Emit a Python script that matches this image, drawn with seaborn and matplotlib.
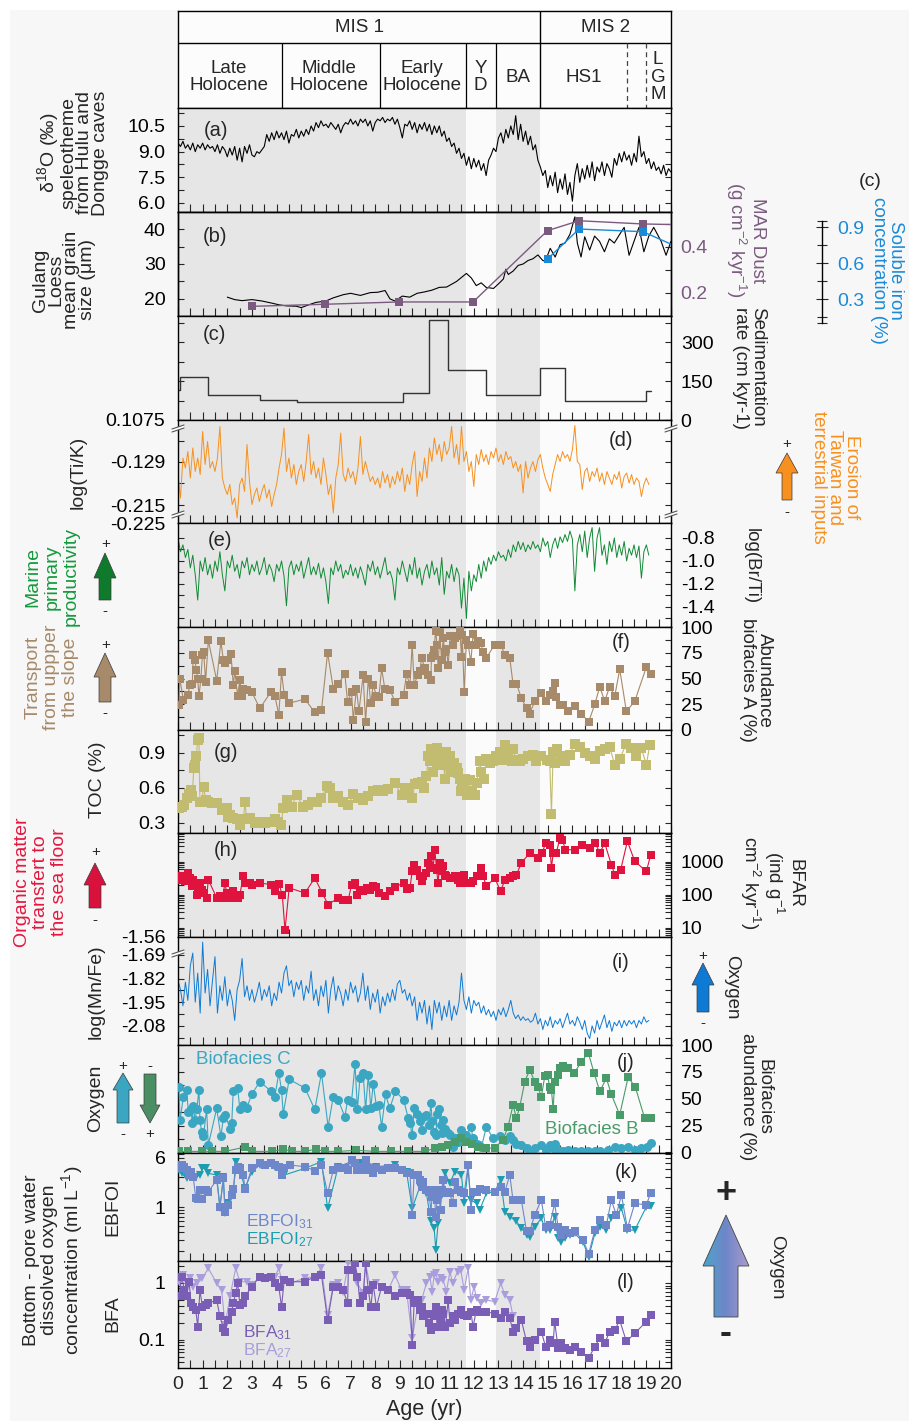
import numpy as np
import matplotlib
matplotlib.use("Agg")
import matplotlib.pyplot as plt
import matplotlib.colors as mcolors
from matplotlib.patches import Polygon, Rectangle
from matplotlib.ticker import MultipleLocator, LogLocator, NullFormatter
import seaborn as sns

# ====================== DATA ======================
# chronology (kyr)
grey_start = [0.0, 12.9]
grey_end = [11.7, 14.7]
mis_labels = ["MIS 1", "MIS 2"]
mis_centers = [7.35, 17.35]
mis_boundary = 14.7
stage_labels = ["Late\nHolocene", "Middle\nHolocene", "Early\nHolocene", "Y\nD", "BA", "HS1", "L\nG\nM"]
stage_centers = [2.07, 6.14, 9.9, 12.28, 13.78, 16.46, 19.47]
stage_dividers = [4.2, 8.2, 11.7, 12.9]
stage_dashed = [18.2, 19.0]

# (a) speleothem d18O, 0.1 kyr step from 0
speleo_o18 = [9.5, 9.3, 9.6, 9.2, 9.4, 9.1, 9.5, 9.0, 9.4, 9.2,
              9.5, 9.1, 9.4, 9.2, 9.3, 9.0, 9.4, 8.9, 9.3, 9.1,
              8.7, 9.2, 8.8, 9.3, 8.5, 9.2, 8.4, 9.3, 8.9, 9.4,
              8.8, 8.7, 9.0, 8.9, 9.1, 9.3, 10.0, 9.6, 10.1, 9.7,
              10.2, 9.8, 10.1, 9.7, 10.2, 9.5, 10.0, 9.9, 10.3, 9.8,
              10.2, 9.9, 10.3, 10.0, 10.5, 10.2, 10.7, 10.4, 10.8, 10.5,
              10.6, 10.4, 10.7, 10.5, 10.3, 10.6, 10.1, 10.5, 10.7, 10.6,
              10.9, 10.6, 10.8, 10.5, 10.9, 10.7, 10.9, 10.5, 10.8, 10.2,
              10.7, 10.9, 10.8, 11.0, 10.7, 10.9, 10.8, 11.0, 10.6, 10.9,
              10.4, 9.8, 10.6, 10.5, 10.8, 10.3, 10.7, 10.1, 10.6, 10.3,
              10.7, 10.2, 10.6, 10.0, 10.5, 10.1, 10.5, 9.9, 10.2, 9.6,
              9.8, 9.3, 9.5, 8.9, 9.2, 8.6, 8.9, 8.2, 8.7, 8.0,
              8.6, 8.1, 8.5, 7.9, 8.3, 7.6, 8.5, 8.8, 9.2, 9.0,
              9.8, 10.1, 9.5, 10.3, 9.8, 10.5, 10.0, 11.1, 9.7, 10.6,
              9.6, 10.2, 9.4, 9.9, 9.1, 9.4, 8.5, 8.1, 7.6, 7.9,
              6.9, 7.6, 7.0, 7.8, 6.6, 7.4, 6.8, 7.7, 6.5, 7.2,
              6.1, 7.6, 8.3, 7.2, 8.0, 7.4, 8.2, 7.5, 8.4, 7.3,
              8.1, 7.8, 8.4, 7.6, 8.3, 8.0, 7.5, 8.6, 8.2, 8.9,
              8.4, 9.0, 8.5, 8.8, 8.2, 8.9, 8.4, 9.9, 8.7, 9.0,
              8.3, 8.6, 8.0, 8.4, 7.9, 8.1, 7.7, 8.2, 7.6, 8.0,
              7.8]

# (b) Gulang loess grain size
grain_age = [2.0, 2.3, 2.6, 3.0, 3.4, 3.8, 4.1, 4.4, 4.8, 5.0, 5.3, 5.6, 6.0, 6.3, 6.7, 7.0, 7.4, 7.8, 8.1, 8.4,
             8.6, 8.8, 9.1, 9.4, 9.7, 10.0, 10.3, 10.6, 10.9, 11.3, 11.7, 11.9, 12.1, 12.3, 12.5, 12.8, 13.0, 13.2, 13.3, 13.4,
             13.6, 13.8, 14.0, 14.2, 14.4, 14.6, 14.8, 14.9, 15.1, 15.3, 15.5, 15.7, 15.9, 16.0, 16.1, 16.2, 16.35, 16.5, 16.7, 16.9,
             17.1, 17.3, 17.5, 17.7, 17.9, 18.1, 18.3, 18.5, 18.7, 18.9, 19.1, 19.3, 19.6, 19.8, 20.0]
grain_size = [20.5, 19.8, 19.5, 19.8, 19.4, 18.8, 18.3, 18.0, 17.9, 17.5, 18.3, 19.0, 19.4, 20.3, 21.2, 21.6, 21.0, 21.8, 21.9, 22.4,
              20.0, 19.4, 20.8, 20.5, 21.6, 22.0, 22.5, 23.3, 23.4, 25.0, 27.3, 26.0, 23.8, 24.6, 23.3, 23.0, 24.3, 25.7, 28.5, 27.0,
              28.0, 29.6, 30.0, 31.0, 31.5, 32.6, 31.0, 30.8, 34.5, 32.0, 35.5, 36.0, 38.5, 41.0, 43.5, 36.0, 32.0, 37.8, 34.0, 38.0,
              36.5, 33.5, 37.2, 36.0, 38.3, 40.5, 32.5, 36.5, 40.5, 33.5, 38.0, 40.5, 36.5, 32.5, 36.5]
mar_age = [2.99, 5.96, 8.96, 11.97, 14.99, 16.27, 18.86, 20.3]
mar_dust = [0.142, 0.151, 0.161, 0.161, 0.471, 0.514, 0.500, 0.497]
iron_age = [14.99, 16.27, 18.86, 20.3]
iron_conc = [0.633, 0.883, 0.861, 0.73]

# (c) sedimentation rate (step edges and rates)
sed_edges = [0.0, 0.07, 1.22, 3.33, 4.82, 9.12, 10.2, 10.95, 12.5, 14.7, 15.7, 19.0, 19.2]
sed_rate = [115, 165, 96, 77, 69, 104, 385, 192, 96, 200, 73, 112]

# (d) log(Ti/K), 0.1 kyr step from 0
tik = [-0.154, -0.201, -0.121, -0.141, -0.108, -0.161, -0.101, -0.148, -0.121, -0.154,
       -0.068, -0.134, -0.088, -0.141, -0.128, -0.148, -0.121, -0.058, -0.161, -0.181,
       -0.194, -0.174, -0.214, -0.201, -0.241, -0.174, -0.161, -0.188, -0.094, -0.168,
       -0.214, -0.194, -0.181, -0.208, -0.188, -0.174, -0.201, -0.184, -0.218, -0.194,
       -0.174, -0.141, -0.114, -0.061, -0.148, -0.121, -0.161, -0.134, -0.174, -0.148,
       -0.134, -0.168, -0.128, -0.074, -0.154, -0.128, -0.161, -0.141, -0.174, -0.121,
       -0.154, -0.194, -0.174, -0.231, -0.161, -0.134, -0.071, -0.154, -0.168, -0.141,
       -0.161, -0.148, -0.174, -0.141, -0.078, -0.154, -0.128, -0.148, -0.168, -0.158,
       -0.174, -0.161, -0.181, -0.148, -0.171, -0.154, -0.181, -0.158, -0.174, -0.148,
       -0.168, -0.141, -0.188, -0.154, -0.174, -0.134, -0.108, -0.198, -0.148, -0.168,
       -0.121, -0.161, -0.101, -0.128, -0.081, -0.114, -0.094, -0.128, -0.088, -0.114,
       -0.101, -0.058, -0.121, -0.094, -0.134, -0.058, -0.128, -0.108, -0.148, -0.128,
       -0.178, -0.114, -0.134, -0.104, -0.128, -0.114, -0.134, -0.108, -0.121, -0.101,
       -0.128, -0.114, -0.134, -0.108, -0.124, -0.118, -0.141, -0.128, -0.148, -0.134,
       -0.191, -0.128, -0.161, -0.141, -0.128, -0.148, -0.124, -0.114, -0.141, -0.161,
       -0.174, -0.188, -0.154, -0.134, -0.114, -0.128, -0.108, -0.121, -0.114, -0.128,
       -0.104, -0.056, -0.128, -0.134, -0.184, -0.148, -0.141, -0.168, -0.148, -0.158,
       -0.141, -0.168, -0.151, -0.174, -0.148, -0.161, -0.174, -0.154, -0.164, -0.148,
       -0.181, -0.158, -0.151, -0.171, -0.154, -0.174, -0.161, -0.168, -0.198, -0.174,
       -0.161, -0.174]

# (e) log(Br/Ti), 0.1 kyr step from 0
brti = [-0.80, -0.92, -0.86, -0.97, -0.90, -1.06, -0.95, -1.12, -1.34, -1.00,
        -1.09, -0.97, -1.12, -1.03, -1.15, -1.00, -1.09, -0.92, -1.12, -1.26,
        -1.00, -1.06, -0.95, -1.09, -1.03, -1.15, -1.00, -1.06, -0.97, -1.12,
        -1.03, -1.09, -1.00, -1.12, -1.06, -0.97, -1.12, -1.03, -1.08, -1.18,
        -1.03, -1.09, -1.00, -1.13, -1.39, -1.06, -1.00, -1.12, -1.03, -1.09,
        -1.00, -1.15, -1.06, -0.97, -1.12, -1.05, -1.12, -1.02, -1.15, -1.06,
        -1.18, -1.37, -1.06, -1.12, -1.00, -1.09, -1.03, -1.15, -1.08, -1.12,
        -1.03, -1.13, -1.06, -1.15, -1.05, -1.12, -1.21, -1.03, -1.09, -1.00,
        -1.12, -1.05, -1.15, -1.06, -0.97, -1.12, -1.09, -1.16, -1.34, -1.06,
        -1.12, -1.00, -1.09, -1.18, -1.03, -1.12, -0.97, -1.15, -1.06, -1.21,
        -1.09, -1.03, -1.15, -1.00, -1.12, -1.06, -1.21, -0.97, -1.29, -1.09,
        -1.15, -1.03, -1.18, -1.06, -1.12, -1.41, -1.15, -1.50, -1.09, -1.26,
        -1.12, -1.18, -1.03, -1.15, -1.00, -1.09, -0.97, -1.03, -0.95, -1.00,
        -0.92, -0.97, -0.95, -1.00, -0.90, -0.97, -0.86, -0.92, -0.83, -0.90,
        -0.84, -0.92, -0.86, -0.90, -0.83, -0.89, -0.86, -0.92, -0.80, -0.87,
        -0.83, -0.97, -0.86, -0.80, -0.89, -0.79, -0.84, -0.77, -0.83, -0.74,
        -0.81, -1.26, -0.86, -0.77, -0.92, -0.74, -0.97, -0.80, -0.71, -1.09,
        -0.80, -0.71, -0.95, -0.86, -1.03, -0.83, -0.92, -0.80, -0.97, -0.86,
        -0.95, -0.83, -1.00, -0.89, -0.95, -0.86, -0.97, -0.87, -1.15, -0.92,
        -0.86, -0.95]

# (f) abundance biofacies A (%) : (age, value)
biofacies_a = [(0.04, 24), (0.07, 50), (0.22, 29), (0.39, 34), (0.49, 44), (0.58, 45), (0.62, 73), (0.69, 68), (0.74, 58),
               (0.80, 50), (0.85, 33), (0.93, 50), (0.99, 73), (1.04, 76), (1.12, 47), (1.23, 87), (1.57, 48), (1.74, 86),
               (1.84, 68), (1.91, 65), (2.04, 68), (2.15, 74), (2.24, 44), (2.31, 57), (2.42, 33), (2.51, 49), (2.58, 33),
               (2.65, 40), (2.78, 39), (2.99, 37), (3.32, 21), (3.77, 37), (3.93, 33), (4.09, 15), (4.20, 56), (4.31, 34),
               (4.50, 26), (5.15, 30), (5.55, 17), (5.82, 19), (6.07, 75), (6.30, 40), (6.50, 45), (6.77, 54), (6.88, 27),
               (7.04, 37), (7.11, 10), (7.24, 40), (7.34, 18), (7.51, 53), (7.61, 8), (7.72, 50), (7.82, 26), (7.92, 44),
               (8.05, 33), (8.15, 32), (8.26, 60), (8.39, 40), (8.59, 39), (8.82, 27), (9.15, 34), (9.27, 54), (9.41, 44),
               (9.50, 83), (9.58, 44), (9.72, 53), (9.81, 57), (9.88, 70), (10.01, 60), (10.15, 53), (10.26, 49), (10.28, 70),
               (10.35, 72), (10.39, 78), (10.45, 96), (10.51, 83), (10.55, 60), (10.62, 95), (10.69, 68), (10.76, 89),
               (10.82, 76), (10.89, 79), (10.96, 63), (11.05, 91), (11.14, 83), (11.23, 89), (11.30, 91), (11.43, 99),
               (11.50, 71), (11.53, 92), (11.61, 37), (11.70, 87), (11.77, 83), (11.88, 66), (11.97, 93), (12.07, 83),
               (12.18, 86), (12.28, 84), (12.38, 76), (12.51, 70), (12.85, 83), (13.09, 83), (13.26, 73), (13.46, 70),
               (13.59, 45), (13.73, 45), (13.93, 31), (14.14, 21), (14.27, 16), (14.47, 28), (14.74, 36), (14.91, 28),
               (15.08, 34), (15.22, 38), (15.28, 46), (15.35, 32), (15.49, 24), (15.62, 24), (15.82, 18), (16.09, 23),
               (16.36, 16), (16.66, 8), (16.91, 25), (17.11, 42), (17.31, 28), (17.51, 42), (17.72, 33), (17.92, 59),
               (18.19, 18), (18.53, 28), (19.00, 61), (19.18, 54)]

# (g) TOC (%)
toc = [(0.04, 0.43), (0.15, 0.44), (0.26, 0.45), (0.35, 0.51), (0.45, 0.55), (0.53, 0.58), (0.58, 0.53), (0.64, 0.77),
       (0.69, 0.80), (0.74, 0.87), (0.80, 1.01), (0.85, 1.03), (0.89, 0.48), (0.96, 0.48), (1.04, 0.61), (1.12, 0.50),
       (1.23, 0.48), (1.36, 0.47), (1.57, 0.47), (1.77, 0.41), (1.97, 0.43), (2.04, 0.35), (2.11, 0.37), (2.24, 0.34),
       (2.38, 0.33), (2.51, 0.28), (2.65, 0.33), (2.72, 0.48), (2.78, 0.33), (2.92, 0.34), (3.12, 0.30), (3.32, 0.31),
       (3.53, 0.30), (3.73, 0.31), (3.93, 0.33), (4.07, 0.31), (4.18, 0.28), (4.27, 0.43), (4.41, 0.50), (4.61, 0.44),
       (4.81, 0.54), (5.08, 0.44), (5.28, 0.45), (5.42, 0.48), (5.62, 0.48), (5.82, 0.51), (6.03, 0.62), (6.16, 0.60),
       (6.30, 0.51), (6.50, 0.53), (6.70, 0.48), (6.91, 0.45), (7.11, 0.55), (7.31, 0.51), (7.51, 0.50), (7.72, 0.53),
       (7.92, 0.57), (8.12, 0.58), (8.32, 0.57), (8.53, 0.59), (8.80, 0.64), (9.07, 0.54), (9.20, 0.60), (9.34, 0.58),
       (9.50, 0.51), (9.61, 0.63), (9.74, 0.64), (9.88, 0.65), (9.99, 0.60), (10.08, 0.70), (10.15, 0.87), (10.22, 0.83),
       (10.28, 0.93), (10.35, 0.74), (10.42, 0.85), (10.49, 0.94), (10.55, 0.80), (10.62, 0.90), (10.69, 0.83),
       (10.76, 0.87), (10.82, 0.68), (10.89, 0.91), (10.96, 0.80), (11.03, 0.87), (11.09, 0.74), (11.20, 0.81),
       (11.30, 0.77), (11.36, 0.73), (11.43, 0.68), (11.47, 0.57), (11.53, 0.65), (11.61, 0.58), (11.66, 0.68),
       (11.74, 0.54), (11.84, 0.67), (11.93, 0.57), (12.04, 0.54), (12.11, 0.64), (12.24, 0.83), (12.31, 0.74),
       (12.42, 0.68), (12.51, 0.85), (12.65, 0.81), (12.78, 0.83), (12.92, 0.87), (13.05, 0.91), (13.19, 0.84),
       (13.28, 0.97), (13.39, 0.90), (13.53, 0.83), (13.59, 0.93), (13.73, 0.84), (13.86, 0.83), (14.00, 0.85),
       (14.20, 0.87), (14.41, 0.88), (14.54, 0.83), (14.74, 0.87), (14.95, 0.84), (15.08, 0.83), (15.15, 0.38),
       (15.22, 0.91), (15.28, 0.81), (15.39, 0.93), (15.55, 0.87), (15.69, 0.83), (15.89, 0.88), (16.09, 0.98),
       (16.30, 0.95), (16.50, 0.90), (16.70, 0.87), (16.91, 0.85), (17.11, 0.92), (17.31, 0.93), (17.51, 0.95),
       (17.72, 0.80), (17.92, 0.85), (18.19, 0.98), (18.39, 0.94), (18.59, 0.87), (18.80, 0.94), (19.00, 0.80),
       (19.14, 0.97)]

# (h) BFAR (ind g-1 cm-2 kyr-1)
bfar = [(0.04, 291), (0.15, 368), (0.28, 260), (0.39, 464), (0.49, 327), (0.55, 183), (0.62, 291), (0.69, 231),
        (0.76, 102), (0.82, 145), (0.89, 231), (0.96, 145), (1.07, 115), (1.16, 81), (1.23, 291), (1.57, 81), (1.70, 91),
        (1.80, 81), (1.91, 231), (1.97, 115), (2.04, 91), (2.11, 81), (2.24, 129), (2.45, 81), (2.51, 102), (2.65, 385),
        (2.72, 231), (2.92, 231), (3.01, 206), (3.32, 231), (3.77, 206), (3.93, 129), (4.09, 220), (4.23, 102),
        (4.34, 8.5), (4.51, 163), (5.15, 115), (5.55, 327), (5.85, 115), (6.09, 51), (6.50, 81), (6.70, 72), (6.91, 72),
        (7.04, 206), (7.18, 231), (7.28, 102), (7.38, 145), (7.51, 129), (7.65, 163), (7.78, 145), (7.92, 183),
        (8.05, 175), (8.15, 115), (8.39, 91), (8.59, 129), (8.82, 175), (9.15, 231), (9.27, 152), (9.41, 163),
        (9.50, 521), (9.58, 830), (9.68, 586), (9.81, 368), (9.88, 260), (9.95, 368), (10.08, 464), (10.15, 933),
        (10.22, 739), (10.28, 1490), (10.35, 658), (10.42, 2360), (10.49, 586), (10.55, 231), (10.62, 933), (10.69, 521),
        (10.76, 739), (10.82, 413), (10.89, 368), (11.03, 327), (11.09, 327), (11.23, 368), (11.34, 291), (11.43, 231),
        (11.50, 368), (11.61, 413), (11.70, 231), (11.88, 231), (11.97, 260), (12.11, 368), (12.20, 368), (12.31, 658),
        (12.38, 368), (12.51, 183), (12.85, 327), (13.09, 129), (13.26, 291), (13.46, 327), (13.59, 368), (13.73, 413),
        (13.93, 933), (14.27, 1870), (14.61, 1320), (14.78, 1870), (14.91, 3760), (15.08, 3350), (15.15, 658),
        (15.22, 1870), (15.35, 1870), (15.49, 5330), (15.59, 4750), (15.72, 2360), (16.09, 2360), (16.39, 3350),
        (16.70, 2650), (16.93, 3760), (17.11, 1870), (17.31, 3760), (17.58, 830), (17.72, 413), (17.96, 586),
        (18.23, 4230), (18.53, 1050), (19.00, 521), (19.18, 1670)]

# (i) log(Mn/Fe), 0.1 kyr step from 0
mnfe = [-1.83, -1.88, -1.97, -1.84, -1.94, -1.75, -1.68, -1.95, -1.79, -2.01,
        -1.62, -1.90, -1.77, -1.97, -1.83, -1.70, -2.01, -1.86, -1.94, -1.81,
        -1.97, -1.88, -1.94, -2.05, -1.88, -1.83, -1.71, -1.92, -1.86, -1.94,
        -1.88, -1.95, -1.90, -1.84, -1.94, -1.88, -1.92, -1.86, -1.97, -1.90,
        -1.94, -1.84, -1.90, -1.79, -1.75, -1.86, -1.83, -1.92, -1.84, -1.88,
        -1.83, -1.94, -1.86, -1.90, -1.78, -1.94, -1.88, -1.97, -1.86, -1.92,
        -1.83, -2.01, -1.88, -1.81, -1.94, -1.86, -1.90, -1.97, -1.88, -1.94,
        -1.84, -1.90, -1.86, -1.95, -1.90, -1.79, -1.94, -1.86, -1.99, -1.90,
        -1.95, -1.88, -2.01, -1.92, -1.97, -1.90, -1.95, -1.88, -1.94, -1.85,
        -1.83, -1.90, -1.88, -1.94, -1.90, -1.97, -1.92, -2.05, -1.95, -2.01,
        -1.94, -2.07, -1.97, -2.10, -1.94, -2.01, -1.95, -2.05, -1.97, -2.03,
        -1.94, -2.05, -1.97, -2.02, -1.95, -1.79, -1.94, -1.99, -1.92, -2.01,
        -1.94, -1.97, -1.95, -2.01, -1.97, -2.02, -1.99, -2.03, -2.00, -2.05,
        -1.99, -2.02, -1.98, -2.03, -1.99, -1.94, -2.01, -2.04, -2.02, -2.05,
        -2.03, -2.05, -2.04, -2.06, -2.05, -2.01, -2.07, -2.04, -2.10, -2.05,
        -2.08, -2.03, -2.09, -2.05, -2.07, -2.04, -2.09, -2.05, -2.01, -2.07,
        -2.05, -2.08, -2.03, -2.06, -2.10, -2.05, -2.12, -2.15, -2.08, -2.12,
        -2.05, -2.10, -2.06, -2.02, -2.09, -2.05, -2.11, -2.06, -2.08, -2.05,
        -2.09, -2.05, -2.08, -2.05, -2.07, -2.05, -2.09, -2.05, -2.07, -2.03,
        -2.06, -2.05]

# (j) biofacies abundance (%)
biofacies_c = [(0.04, 61), (0.08, 30), (0.22, 52), (0.35, 58), (0.42, 38), (0.53, 40), (0.58, 27), (0.62, 43), (0.69, 30),
               (0.76, 40), (0.85, 58), (0.89, 30), (0.96, 19), (1.03, 15), (1.16, 40), (1.23, 7), (1.57, 41), (1.74, 15),
               (1.84, 32), (1.91, 35), (2.11, 22), (2.18, 27), (2.24, 57), (2.42, 60), (2.51, 40), (2.65, 44), (2.78, 41),
               (2.99, 54), (3.32, 66), (3.77, 57), (3.93, 52), (4.09, 74), (4.20, 58), (4.27, 36), (4.51, 68), (5.15, 60),
               (5.55, 40), (5.82, 74), (6.09, 24), (6.30, 52), (6.50, 49), (6.77, 33), (6.88, 49), (7.04, 47), (7.18, 82),
               (7.28, 40), (7.38, 69), (7.51, 74), (7.61, 40), (7.72, 72), (7.82, 41), (7.92, 64), (8.05, 43), (8.15, 44),
               (8.26, 24), (8.42, 54), (8.59, 41), (8.82, 57), (9.15, 49), (9.34, 32), (9.41, 27), (9.50, 16), (9.58, 41),
               (9.68, 36), (9.81, 29), (9.88, 21), (9.95, 33), (10.08, 35), (10.18, 26), (10.26, 46), (10.31, 29),
               (10.39, 19), (10.46, 16), (10.51, 36), (10.58, 40), (10.65, 26), (10.69, 18), (10.76, 30), (10.85, 22),
               (10.96, 18), (11.03, 16), (11.14, 5), (11.23, 13), (11.34, 10), (11.50, 21), (11.61, 12), (11.70, 16),
               (11.88, 24), (11.97, 13), (12.11, 8), (12.20, 7), (12.31, 5), (12.51, 24), (12.78, 13), (13.05, 15),
               (13.26, 12), (13.46, 15), (13.59, 12), (13.73, 8), (13.93, 7), (14.14, 4), (14.27, 1), (14.47, 4), (14.74, 7),
               (14.91, 2), (15.08, 7), (15.22, 4), (15.28, 8), (15.42, 2), (15.62, 1), (15.82, 2), (16.09, 1), (16.36, 1),
               (16.64, 1), (16.91, 1), (17.11, 1), (17.45, 2), (17.72, 5), (17.99, 4), (18.26, 5), (18.53, 2), (18.80, 4),
               (19.04, 5), (19.18, 9)]
biofacies_b = [(0.04, 1), (0.42, 1), (0.96, 1), (1.36, 1), (1.91, 1), (2.72, 5), (2.99, 1), (3.80, 1), (4.27, 3), (4.61, 1),
               (5.15, 1), (5.58, 3), (5.96, 1), (6.50, 1), (7.24, 2), (7.99, 1), (8.66, 1), (9.34, 1), (10.01, 1), (10.42, 4),
               (10.69, 5), (10.96, 7), (11.23, 10), (11.50, 13), (11.70, 10), (11.91, 8), (12.18, 5), (12.51, 4), (12.85, 4),
               (13.19, 12), (13.39, 24), (13.59, 44), (13.73, 32), (13.86, 42), (14.07, 66), (14.27, 77), (14.47, 66),
               (14.61, 61), (14.74, 52), (14.88, 71), (14.99, 72), (15.08, 61), (15.15, 58), (15.22, 40), (15.28, 66),
               (15.42, 72), (15.49, 79), (15.62, 80), (15.82, 79), (16.07, 74), (16.36, 84), (16.64, 93), (16.88, 74),
               (17.11, 57), (17.38, 69), (17.58, 54), (17.92, 35), (18.26, 70), (18.55, 61), (18.93, 32), (19.18, 32)]

# (k) EBFOI (ml L-1)
ebfoi_31 = [(0.04, 4.11), (0.15, 4.64), (0.26, 4.37), (0.35, 3.86), (0.45, 3.22), (0.53, 3.64), (0.62, 3.03), (0.72, 1.37),
            (0.80, 1.32), (0.89, 1.86), (0.99, 1.32), (1.12, 1.86), (1.23, 1.75), (1.57, 2.68), (1.70, 1.01), (1.84, 2.85),
            (1.91, 0.84), (2.04, 1.08), (2.18, 1.55), (2.24, 1.91), (2.34, 3.86), (2.42, 4.37), (2.51, 4.11), (2.65, 3.22),
            (2.72, 1.91), (2.99, 4.11), (3.32, 4.93), (3.53, 4.64), (3.77, 4.93), (3.93, 4.64), (4.09, 4.37), (4.20, 3.22),
            (4.31, 4.11), (4.54, 4.64), (5.15, 4.37), (5.55, 3.77), (5.82, 4.64), (6.07, 1.65), (6.30, 3.86), (6.50, 4.11),
            (6.77, 4.11), (6.91, 3.86), (7.04, 5.57), (7.18, 4.93), (7.28, 3.86), (7.38, 4.37), (7.51, 3.86), (7.61, 5.57),
            (7.72, 4.11), (7.82, 3.86), (7.92, 3.42), (8.05, 4.11), (8.26, 3.86), (8.53, 4.11), (8.80, 4.11), (9.07, 3.86),
            (9.27, 3.42), (9.41, 3.42), (9.50, 0.75), (9.58, 3.22), (9.72, 3.22), (9.81, 2.68), (9.88, 2.10), (9.95, 2.53),
            (10.08, 1.86), (10.18, 1.75), (10.26, 0.84), (10.31, 1.46), (10.39, 1.86), (10.46, 0.70), (10.51, 1.29),
            (10.58, 1.65), (10.65, 0.90), (10.69, 1.86), (10.76, 2.68), (10.85, 1.65), (10.96, 1.75), (11.03, 1.65),
            (11.14, 1.14), (11.23, 2.53), (11.34, 1.86), (11.50, 1.75), (11.61, 1.65), (11.77, 4.64), (11.88, 0.90),
            (11.97, 1.75), (12.11, 1.75), (12.24, 1.91), (12.51, 1.86), (12.85, 1.75), (13.09, 2.10), (13.26, 1.75),
            (13.46, 3.22), (13.59, 1.29), (13.73, 1.29), (13.93, 1.29), (14.14, 0.41), (14.27, 0.41), (14.47, 0.75),
            (14.74, 1.29), (14.91, 0.49), (15.08, 0.52), (15.28, 1.14), (15.42, 0.48), (15.55, 0.36), (15.69, 0.43),
            (15.89, 0.38), (16.09, 0.41), (16.43, 0.30), (16.66, 0.18), (16.91, 0.43), (17.11, 0.62), (17.38, 0.52),
            (17.58, 1.29), (17.78, 0.75), (17.99, 1.55), (18.23, 0.46), (18.53, 1.14), (19.00, 1.08), (19.18, 1.69)]
ebfoi_27 = [(0.04, 3.86), (0.15, 3.42), (0.35, 2.85), (0.53, 3.42), (0.72, 3.03), (0.89, 3.22), (0.99, 4.11), (1.12, 4.11),
            (1.23, 3.42), (1.57, 3.22), (1.70, 0.95), (1.84, 3.03), (1.91, 0.79), (2.04, 1.14), (2.24, 1.65), (2.34, 5.25),
            (2.51, 3.86), (2.72, 1.98), (2.99, 3.64), (3.32, 4.64), (3.93, 4.37), (4.31, 3.22), (5.15, 4.11), (5.82, 5.25),
            (6.07, 0.95), (6.50, 4.37), (7.04, 5.25), (7.38, 4.93), (7.61, 5.25), (8.05, 4.37), (8.80, 4.64), (9.27, 3.64),
            (9.50, 0.95), (9.81, 2.10), (10.08, 1.65), (10.26, 0.59), (10.39, 0.46), (10.46, 0.21), (10.55, 0.55),
            (10.69, 1.55), (10.85, 3.42), (11.03, 2.38), (11.23, 3.64), (11.50, 3.22), (11.61, 1.14), (11.77, 4.11),
            (11.88, 1.29), (12.11, 1.14), (12.24, 0.90), (12.51, 1.65), (12.85, 1.75), (13.09, 2.68), (13.26, 0.84),
            (13.46, 0.70), (13.73, 0.59), (13.93, 0.46), (14.14, 0.36), (14.27, 0.34), (14.47, 0.49), (14.74, 0.66),
            (14.91, 0.43), (15.08, 0.43), (15.28, 0.70), (15.42, 0.32), (15.55, 0.28), (15.69, 0.32), (15.89, 0.36),
            (16.09, 0.38), (16.43, 0.28), (16.66, 0.16), (16.91, 0.38), (17.11, 0.49), (17.38, 0.43), (17.58, 0.66),
            (17.78, 0.75), (17.99, 0.95), (18.23, 0.43), (18.53, 0.43), (19.00, 1.01), (19.18, 1.04)]

# (l) BFA (ml L-1)
bfa_31 = [(0.04, 0.58), (0.15, 1.29), (0.26, 0.75), (0.35, 0.58), (0.45, 1.05), (0.53, 0.44), (0.62, 0.38), (0.72, 0.34),
          (0.80, 0.17), (0.89, 0.75), (0.99, 0.38), (1.12, 0.41), (1.23, 0.44), (1.57, 0.50), (1.70, 0.26), (1.84, 0.16),
          (1.91, 0.14), (2.04, 0.22), (2.18, 0.31), (2.24, 0.44), (2.34, 0.66), (2.42, 0.99), (2.51, 0.41), (2.65, 0.44),
          (2.72, 0.58), (2.99, 0.86), (3.32, 1.29), (3.53, 1.21), (3.77, 1.29), (3.93, 0.99), (4.09, 0.86), (4.20, 0.38),
          (4.31, 1.13), (4.54, 1.05), (5.15, 1.05), (5.55, 1.29), (5.82, 1.38), (6.07, 0.22), (6.30, 0.86), (6.50, 0.86),
          (6.70, 0.75), (6.88, 0.44), (6.91, 1.69), (7.04, 1.69), (7.18, 2.21), (7.28, 1.29), (7.38, 0.44), (7.51, 0.58),
          (7.61, 2.21), (7.72, 0.75), (7.82, 0.38), (7.92, 0.92), (8.05, 0.38), (8.26, 0.86), (8.53, 0.75), (8.80, 0.58),
          (9.07, 0.66), (9.27, 0.66), (9.41, 0.62), (9.50, 0.082), (9.58, 0.44), (9.72, 0.50), (9.81, 0.34), (9.88, 0.38),
          (9.95, 0.26), (10.08, 0.29), (10.18, 0.20), (10.26, 0.15), (10.31, 0.29), (10.39, 0.26), (10.46, 0.38),
          (10.51, 0.17), (10.58, 0.29), (10.65, 0.22), (10.69, 0.34), (10.76, 0.29), (10.85, 0.17), (10.96, 0.50),
          (11.03, 0.20), (11.14, 0.26), (11.23, 0.22), (11.34, 0.29), (11.50, 0.34), (11.61, 0.27), (11.74, 0.26),
          (11.88, 0.31), (11.97, 0.17), (12.11, 0.34), (12.24, 0.31), (12.51, 0.31), (12.85, 0.29), (13.09, 0.24),
          (13.26, 0.31), (13.46, 0.24), (13.59, 0.14), (13.73, 0.16), (13.93, 0.22), (14.14, 0.094), (14.27, 0.076),
          (14.47, 0.100), (14.74, 0.14), (14.91, 0.076), (15.08, 0.100), (15.22, 0.087), (15.28, 0.21), (15.42, 0.072),
          (15.55, 0.087), (15.69, 0.072), (15.89, 0.067), (16.09, 0.076), (16.36, 0.062), (16.66, 0.048), (16.91, 0.076),
          (17.11, 0.107), (17.31, 0.087), (17.51, 0.14), (17.72, 0.15), (17.92, 0.22), (18.19, 0.094), (18.53, 0.13),
          (19.00, 0.21), (19.18, 0.27)]
bfa_27 = [(0.04, 1.05), (0.22, 1.38), (0.35, 0.99), (0.49, 1.21), (0.62, 0.86), (0.76, 0.99), (0.89, 1.21), (0.99, 1.21),
          (1.23, 1.81), (1.57, 0.99), (1.77, 0.75), (1.91, 0.18), (2.11, 0.58), (2.34, 1.81), (2.51, 1.05), (2.78, 1.05),
          (2.99, 0.92), (3.32, 1.29), (3.77, 1.29), (3.93, 1.29), (4.09, 1.81), (4.20, 1.13), (4.54, 0.99), (5.15, 1.21),
          (5.55, 1.29), (5.82, 1.81), (6.07, 0.27), (6.30, 0.92), (6.50, 0.99), (6.70, 0.70), (6.91, 2.21), (7.18, 2.07),
          (7.28, 0.99), (7.51, 0.66), (7.61, 2.21), (7.82, 0.75), (8.05, 0.99), (8.53, 0.75), (8.80, 1.38), (9.07, 0.75),
          (9.27, 0.75), (9.50, 0.107), (9.72, 0.38), (9.88, 0.50), (10.08, 0.99), (10.22, 1.29), (10.31, 0.70),
          (10.39, 1.38), (10.46, 1.48), (10.55, 1.05), (10.65, 1.21), (10.76, 1.13), (10.89, 0.70), (11.03, 1.58),
          (11.14, 0.99), (11.34, 1.58), (11.47, 1.69), (11.61, 0.75), (11.77, 1.81), (11.88, 0.50), (12.01, 0.86),
          (12.11, 0.54), (12.31, 0.44), (12.51, 0.50), (12.85, 0.47), (13.09, 0.99), (13.26, 0.62), (13.46, 0.50),
          (13.59, 0.26)]

# tick values / labels
x_ticks = list(range(0, 21))
a_ticks, a_labels = [6.0, 7.5, 9.0, 10.5], ["6.0", "7.5", "9.0", "10.5"]
b_ticks, b_labels = [20, 30, 40], ["20", "30", "40"]
mar_ticks, mar_labels = [0.2, 0.4], ["0.2", "0.4"]
iron_ticks, iron_labels = [0.3, 0.6, 0.9], ["0.3", "0.6", "0.9"]
c_ticks, c_labels = [0, 150, 300], ["0", "150", "300"]
d_ticks, d_labels = [-0.045, -0.129, -0.215, -0.251], ["0.1075", "-0.129", "-0.215", "-0.225"]
e_ticks, e_labels = [-0.8, -1.0, -1.2, -1.4], ["-0.8", "-1.0", "-1.2", "-1.4"]
pct_ticks, pct_labels = [0, 25, 50, 75, 100], ["0", "25", "50", "75", "100"]
g_ticks, g_labels = [0.3, 0.6, 0.9], ["0.3", "0.6", "0.9"]
h_ticks, h_labels = [10, 100, 1000], ["10", "100", "1000"]
i_ticks, i_labels = [-1.592, -1.69, -1.82, -1.95, -2.08], ["-1.56", "-1.69", "-1.82", "-1.95", "-2.08"]
k_ticks, k_labels = [1, 6], ["1", "6"]
l_ticks, l_labels = [0.1, 1], ["0.1", "1"]

# ====================== STYLE ======================
sns.set_style("white")
plt.rcParams["font.family"] = ["Liberation Sans", "DejaVu Sans"]
plt.rcParams["mathtext.default"] = "regular"
plt.rcParams["axes.unicode_minus"] = False
plt.rcParams["axes.edgecolor"] = "black"
plt.rcParams["axes.linewidth"] = 1.0

W, H = 909, 1421
L, R = 178, 671
fig = plt.figure(figsize=(W / 100, H / 100), dpi=100, facecolor="white")

bg = fig.add_axes([0, 0, 1, 1], zorder=-10)
bg.set_xlim(0, W); bg.set_ylim(H, 0); bg.axis("off")
bg.add_patch(Rectangle((10, 10), W - 10, H - 10, facecolor="#f7f7f7", edgecolor="none"))

GREY = "#e6e6e6"


def panel(top, bot):
    ax = fig.add_axes([L / W, 1 - bot / H, (R - L) / W, (bot - top) / H], zorder=2)
    ax.set_facecolor("#fbfbfb")
    for s0, s1 in zip(grey_start, grey_end):
        ax.axvspan(s0, s1, color=GREY, lw=0, zorder=0)
    ax.set_xlim(0, 20)
    ax.set_xticks(x_ticks)
    ax.xaxis.set_minor_locator(MultipleLocator(0.5))
    ax.tick_params(axis="x", which="both", direction="in", length=5.5, width=0.8,
                   top=False, bottom=True, labelbottom=False)
    for sp in ax.spines.values():
        sp.set_color("black"); sp.set_linewidth(1.0)
    ax.set_xlabel(""); ax.set_ylabel("")
    return ax


def setup_y(ax, major, labels, minor=None, side="left", lcolor="black", log=False):
    ax.set_yticks(major, labels=labels)
    if log:
        ax.yaxis.set_minor_locator(LogLocator(base=10, subs=np.arange(2, 10), numticks=30))
        ax.yaxis.set_minor_formatter(NullFormatter())
    elif minor is not None:
        ax.set_yticks(minor, minor=True)
    ax.tick_params(axis="y", which="both", direction="in", left=True, right=True, length=4.5, width=0.8,
                   labelleft=(side == "left"), labelright=(side == "right"), labelsize=14,
                   labelcolor=lcolor, pad=(9 if side == "left" else 7))


def line(ax, x, y, color, lw=0.7, **kw):
    sns.lineplot(x=list(x), y=list(y), ax=ax, color=color, lw=lw, estimator=None, sort=False, **kw)


def mline(ax, pairs, color, marker, ms=5.5, lw=0.8, z=3):
    xs, ys = zip(*pairs)
    sns.lineplot(x=list(xs), y=list(ys), ax=ax, color=color, lw=lw, marker=marker, markersize=ms,
                 markeredgewidth=0, estimator=None, sort=False, zorder=z)


reg_age = lambda n: np.round(np.arange(n) * 0.1, 1)

# ---------- header ----------
hx = fig.add_axes([L / W, 1 - 108 / H, (R - L) / W, (108 - 11) / H], zorder=2)
hx.set_facecolor("#fcfcfc")
hx.set_xlim(0, 20); hx.set_ylim(97, 0)
hx.set_xticks([]); hx.set_yticks([])
for sp in hx.spines.values():
    sp.set_color("black"); sp.set_linewidth(1.0)
hx.axhline(32, color="black", lw=1.0)
hx.vlines(mis_boundary, 0, 97, color="black", lw=1.0)
hx.vlines(stage_dividers, 32, 97, color="black", lw=0.9)
hx.vlines(stage_dashed, 32, 97, color="#444444", lw=0.9, linestyles=(0, (4, 3)))
for lab, cx in zip(mis_labels, mis_centers):
    hx.text(cx, 16.5, lab, ha="center", va="center", fontsize=13.5)
for lab, cx in zip(stage_labels, stage_centers):
    hx.text(cx, 66, lab, ha="center", va="center", fontsize=13.5, linespacing=1.05)

# ---------- (a) ----------
axa = panel(108, 212)
line(axa, reg_age(len(speleo_o18)), speleo_o18, "black", lw=0.8)
setup_y(axa, a_ticks, a_labels, minor=[6.75, 8.25, 9.75, 11.25])
axa.set_ylim(5.47, 11.55)

# ---------- (b) ----------
axb = panel(212, 316)
line(axb, grain_age, grain_size, "black", lw=0.8)
setup_y(axb, b_ticks, b_labels, minor=[25, 35])
axb.set_ylim(15.1, 44.9)
axb2 = axb.twinx()
mline(axb2, list(zip(mar_age, mar_dust)), "#7b5a80", "s", ms=6, lw=1.0)
axb2.set_yticks(mar_ticks, labels=mar_labels)
axb2.set_yticks([0.3, 0.5], minor=True)
axb2.tick_params(axis="y", which="both", direction="in", left=False, right=True, length=4.5, width=0.8,
                 labelright=True, labelleft=False, labelsize=14, labelcolor="#7b5a80", pad=7)
axb2.set_ylim(0.1, 0.552); axb2.set_xlim(0, 20); axb2.set_ylabel("")
axb3 = axb.twinx()
mline(axb3, list(zip(iron_age, iron_conc)), "#1a8ad8", "s", ms=6, lw=1.0)
axb3.set_ylim(0.158, 1.025); axb3.set_xlim(0, 20); axb3.axis("off")

sax = fig.add_axes([822 / W, 1 - 323 / H, 0.0005, 102 / H], zorder=2)
sax.set_facecolor("none")
for k_, sp in sax.spines.items():
    sp.set_visible(k_ == "left"); sp.set_color("black")
sax.set_xticks([])
sax.set_ylim(0.1, 0.95)
sax.yaxis.tick_right()
sax.set_yticks(iron_ticks, labels=iron_labels)
sax.set_yticks([0.1, 0.15, 0.45, 0.75, 0.95], minor=True)
sax.tick_params(axis="y", which="major", direction="inout", length=9, width=0.8, labelsize=14,
                labelcolor="#1a8ad8", pad=6)
sax.tick_params(axis="y", which="minor", direction="inout", length=7, width=0.8)

# ---------- (c) ----------
axc = panel(316, 420)
line(axc, sed_edges, sed_rate + [sed_rate[-1]], "#333333", lw=1.0, drawstyle="steps-post")
setup_y(axc, c_ticks, c_labels, minor=[75, 225, 375], side="right")
axc.set_ylim(0, 400)

# ---------- (d) ----------
axd = panel(420, 523)
line(axd, reg_age(len(tik)), tik, "#f7901e", lw=0.7)
setup_y(axd, d_ticks, d_labels, minor=[-0.087, -0.171])
axd.set_ylim(-0.251, -0.045)

# ---------- (e) ----------
axe = panel(523, 627)
line(axe, reg_age(len(brti)), brti, "#118a35", lw=0.7)
setup_y(axe, e_ticks, e_labels, minor=[-0.9, -1.1, -1.3, -1.5], side="right")
axe.set_ylim(-1.574, -0.67)

# ---------- (f) ----------
axf = panel(627, 730)
mline(axf, biofacies_a, "#a68a6a", "s", ms=6)
setup_y(axf, pct_ticks, pct_labels, minor=[12.5, 37.5, 62.5, 87.5], side="right")
axf.set_ylim(0, 100)

# ---------- (g) ----------
axg = panel(730, 833)
mline(axg, toc, "#c1bc70", "s", ms=6.5)
setup_y(axg, g_ticks, g_labels, minor=[0.45, 0.75, 1.05])
axg.set_ylim(0.214, 1.097)

# ---------- (h) ----------
axh = panel(833, 937)
mline(axh, bfar, "#e0123e", "s", ms=6)
axh.set_yscale("log")
setup_y(axh, h_ticks, h_labels, side="right", log=True)
axh.set_ylim(5.3, 7570)

# ---------- (i) ----------
axi = panel(937, 1045)
line(axi, reg_age(len(mnfe)), mnfe, "#0f7ad4", lw=0.7)
setup_y(axi, i_ticks, i_labels, minor=[-1.755, -1.885, -2.015, -2.145])
axi.set_ylim(-2.185, -1.592)

# ---------- (j) ----------
axj = panel(1045, 1153)
mline(axj, biofacies_c, "#3ba6c2", "o", ms=6.5)
mline(axj, biofacies_b, "#4a9b6a", "s", ms=6)
setup_y(axj, pct_ticks, pct_labels, minor=[12.5, 37.5, 62.5, 87.5], side="right")
axj.set_ylim(-0.5, 100)

# ---------- (k) ----------
axk = panel(1153, 1261)
mline(axk, ebfoi_27, "#1d9db2", "v", ms=6)
mline(axk, ebfoi_31, "#6e87ca", "s", ms=6)
axk.set_yscale("log")
setup_y(axk, k_ticks, k_labels, log=True)
axk.set_ylim(0.139, 7.2)

# ---------- (l) ----------
axl = panel(1261, 1368)
mline(axl, bfa_27, "#a99ddb", "v", ms=6)
mline(axl, bfa_31, "#7a5db4", "s", ms=6)
axl.set_yscale("log")
setup_y(axl, l_ticks, l_labels, log=True)
axl.set_ylim(0.032, 2.43)
axl.tick_params(axis="x", which="major", labelbottom=True, labelsize=14, pad=6)

# ====================== ANNOTATIONS (pixel overlay) ======================
ov = fig.add_axes([0, 0, 1, 1], zorder=20)
ov.set_facecolor("none")
ov.axis("off")


def T(x, y, s, **kw):
    kw.setdefault("ha", "center"); kw.setdefault("va", "center"); kw.setdefault("fontsize", 14)
    ov.text(x, y, s, **kw)


def arrow(cx, ytip, yhead, ybase, hw, sw, color):
    pts = [(cx, ytip), (cx + hw, yhead), (cx + sw, yhead), (cx + sw, ybase), (cx - sw, ybase), (cx - sw, yhead),
           (cx - hw, yhead)]
    p = Polygon(pts, closed=True, facecolor=color, edgecolor="#3a3a3a", lw=0.5)
    ov.add_patch(p)
    return p


# panel letters
for s, x, y in [("(a)", 216, 130), ("(b)", 215, 237), ("(c)", 214, 335), ("(d)", 621, 440), ("(e)", 220, 540),
                ("(f)", 621, 643), ("(g)", 226, 752), ("(h)", 226, 850), ("(i)", 621, 963), ("(j)", 626, 1062),
                ("(k)", 626, 1172), ("(l)", 626, 1283)]:
    T(x, y, s, fontsize=14.5)

# left labels
T(72, 153, "δ$^{18}$O (‰)\nspeleotheme\nfrom Hulu and\nDongge caves", rotation=90, linespacing=0.92)
T(64, 280, "Gulang\nLoess\nmean grain\nsize (μm)", rotation=90, linespacing=0.92)
T(78, 472, "log(Ti/K)", rotation=90)
T(52, 577, "Marine\nprimary\nproductivity", rotation=90, color="#159a3e", linespacing=1.2)
T(52, 677, "Transport\nfrom uppper\nthe slope", rotation=90, color="#a68a6a", linespacing=1.15)
T(97, 780, "TOC (%)", rotation=90)
T(41, 882, "Organic matter\ntransfert to\nthe sea floor", rotation=90, color="#e4173f", linespacing=1.15)
T(96, 992, "log(Mn/Fe)", rotation=90)
T(96, 1098, "Oxygen", rotation=90)
T(113, 1207, "EBFOI", rotation=90)
T(113, 1314, "BFA", rotation=90)
T(54, 1260, "Bottom - pore water\ndissolved oxygen\nconcentration (ml L$^{-1}$)", rotation=90, linespacing=1.05)

# right labels
T(745, 240, "MAR Dust\n(g cm$^{-2}$ kyr$^{-1}$)", rotation=-90, color="#7b5a80", fontsize=13.5, linespacing=1.0)
T(749, 307, "Sedimentation\nrate (cm kyr-1)", rotation=-90, va="top", multialignment="left", fontsize=13.5,
  linespacing=1.0)
T(870, 182, "(c)", fontsize=14)
T(887, 270, "Soluble iron\nconcentration (%)", rotation=-90, color="#1a8ad8", fontsize=13.5, linespacing=0.95)
T(835, 477, "Erosion of\nTaiwan and\nterrestrial inputs", rotation=-90, color="#f7901e", fontsize=13.5,
  linespacing=0.95)
T(751, 566, "log(Br/Ti)", rotation=-90, fontsize=13.5)
T(756, 680, "Abundance\nbiofacies A (%)", rotation=-90, fontsize=13.5, linespacing=0.95)
T(771, 883, "BFAR\n(ind g$^{-1}$\ncm$^{-2}$ kyr$^{-1}$)", rotation=-90, fontsize=13.5, linespacing=1.0)
T(732, 987, "Oxygen", rotation=-90, fontsize=13.5)
T(756, 1097, "Biofacies\nabundance (%)", rotation=-90, fontsize=13.5, linespacing=0.95)
T(777, 1267, "Oxygen", rotation=-90, fontsize=13.5)

# in-panel series labels
T(243, 1060, "Biofacies C", color="#3ba6c2", fontsize=13.5)
T(592, 1130, "Biofacies B", color="#4a9b6a", fontsize=13.5)
T(246, 1222, "EBFOI$_{31}$", ha="left", color="#6e87ca", fontsize=12.5)
T(246, 1240, "EBFOI$_{27}$", ha="left", color="#1d9db2", fontsize=12.5)
T(243, 1333, "BFA$_{31}$", ha="left", color="#7a5db4", fontsize=12.5)
T(243, 1351, "BFA$_{27}$", ha="left", color="#a99ddb", fontsize=12.5)

# x-axis title
T(424, 1410, "Age (yr)", fontsize=15.5)

# arrows with signs
arrow(105, 553, 578, 600, 11, 6, "#0f7a2c"); T(106, 544, "+", fontsize=11); T(105, 611, "-", fontsize=11)
arrow(105, 653, 677, 702, 11, 6, "#a68a6a"); T(106, 645, "+", fontsize=11); T(105, 713, "-", fontsize=11)
arrow(95, 863, 885, 908, 11, 6, "#d8123d"); T(96, 852, "+", fontsize=11); T(95, 920, "-", fontsize=11)
arrow(787, 453, 473, 500, 11, 5, "#f7901e"); T(787, 444, "+", fontsize=11); T(787, 512, "-", fontsize=11)
arrow(703, 963, 985, 1012, 11, 6, "#0f7ad4"); T(703, 956, "+", fontsize=11); T(703, 1023, "-", fontsize=11)
arrow(123, 1073, 1090, 1123, 10, 6, "#3ba6c2"); T(123, 1066, "+", fontsize=11); T(123, 1134, "-", fontsize=11)
arrow(150, 1123, 1105, 1074, 10, 6, "#4a8f63"); T(150, 1066, "-", fontsize=11); T(150, 1134, "+", fontsize=11)

# big gradient arrow
c1 = np.array(mcolors.to_rgb("#4aa4c8"))
c2 = np.array(mcolors.to_rgb("#6f86c8"))
c3 = np.array(mcolors.to_rgb("#ab9bcd"))
tt = np.linspace(0, 1, 200)[:, None]
cols = np.where(tt < 0.5, c1 + (c2 - c1) * (tt / 0.5), c2 + (c3 - c2) * ((tt - 0.5) / 0.5))
im = ov.imshow(cols[None, :, :], extent=(703, 749, 1317, 1215), aspect="auto", zorder=5)
pbig = Polygon([(726, 1215), (749, 1266), (738, 1266), (738, 1317), (714, 1317), (714, 1266), (703, 1266)],
               closed=True, facecolor="none", edgecolor="#444444", lw=0.6, zorder=6)
ov.add_patch(pbig)
im.set_clip_path(pbig)
T(726, 1193, "+", fontsize=26, fontweight="bold")
T(726, 1334, "-", fontsize=26, fontweight="bold")

# axis break marks
for bx, by in [(178, 426), (178, 512), (671, 426), (671, 512), (178, 951)]:
    ov.add_patch(Polygon([(bx - 6, by + 3), (bx + 6, by - 1), (bx + 6, by + 2), (bx - 6, by + 6)],
                         closed=True, facecolor="white", edgecolor="none", zorder=7))
    ov.plot([bx - 6, bx + 6], [by + 3, by - 1], color="#555555", lw=0.8, zorder=8)
    ov.plot([bx - 6, bx + 6], [by + 6, by + 2], color="#555555", lw=0.8, zorder=8)

ov.set_xlim(0, W)
ov.set_ylim(H, 0)

fig.savefig("out.png", dpi=100, facecolor=fig.get_facecolor())
